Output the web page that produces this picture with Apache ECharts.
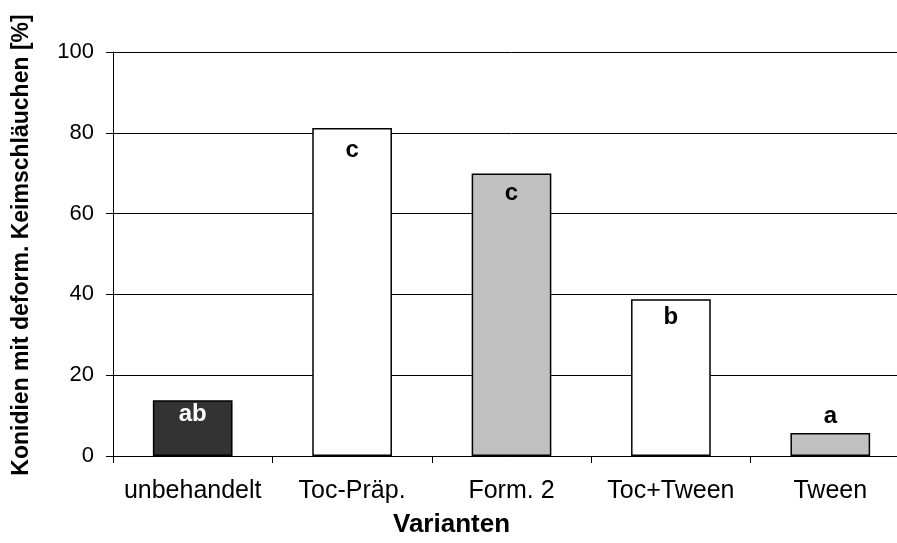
<!DOCTYPE html>
<html><head><meta charset="utf-8">
<script src="https://cdn.jsdelivr.net/npm/echarts@6/dist/echarts.min.js"></script>
<style>html,body{margin:0;padding:0;background:#fff;overflow:hidden;width:897px;height:543px}#c{width:910px;height:543px}</style>
</head><body><div id="c"></div>
<script>
const categories = ['unbehandelt', 'Toc-Präp.', 'Form. 2', 'Toc+Tween', 'Tween'];
const values = [13.8, 81.2, 69.9, 38.8, 5.7];
const letters = ['ab', 'c', 'c', 'b', 'a'];
const yTicks = [0, 20, 40, 60, 80, 100];

const fills = ['#333333', '#ffffff', '#c0c0c0', '#ffffff', '#c0c0c0'];
const labelPos = ['insideTop', 'insideTop', 'insideTop', 'insideTop', 'top'];
const labelColor = ['#ffffff', '#000', '#000', '#000', '#000'];
const labelDist = [2, 10, 8, 6, 5];

const chart = echarts.init(document.getElementById('c'));
chart.setOption({
  animation: false,
  grid: {left: 113, right: 0, top: 52, bottom: 85, containLabel: false},
  xAxis: {
    type: 'category', data: categories,
    name: 'Varianten', nameLocation: 'middle', nameGap: 56,
    nameTextStyle: {fontFamily: 'Liberation Sans', fontWeight: 'bold', fontSize: 26, color: '#000', padding: [0, 120, 0, 0]},
    axisLine: {lineStyle: {color: '#000', width: 1}},
    axisTick: {show: true, alignWithLabel: false, interval: 0, length: 7, lineStyle: {color: '#000'}},
    axisLabel: {interval: 0, hideOverlap: false, fontFamily: 'Liberation Sans', fontSize: 25, color: '#000', margin: 23}
  },
  yAxis: {
    type: 'value', min: 0, max: 100, interval: 20,
    name: 'Konidien mit deform. Keimschläuchen [%]', nameLocation: 'middle', nameGap: 80,
    nameTextStyle: {fontFamily: 'Liberation Sans', fontWeight: 'bold', fontSize: 23, color: '#000', padding: [0, 0, 0, 18]},
    axisLine: {show: true, lineStyle: {color: '#000', width: 1}},
    axisTick: {show: true, length: 7, lineStyle: {color: '#000'}},
    axisLabel: {fontFamily: 'Liberation Sans', fontSize: 22, color: '#000', margin: 19,
      formatter: v => yTicks.includes(v) ? String(v) : ''},
    splitLine: {show: true, lineStyle: {color: '#000', width: 1}}
  },
  series: [{
    type: 'bar', barWidth: '50%',
    data: values.map((v, i) => ({
      value: v,
      itemStyle: {color: fills[i], borderColor: '#000', borderWidth: 1.5},
      label: {show: true, position: labelPos[i], formatter: letters[i], color: labelColor[i],
        fontFamily: 'Liberation Sans', fontWeight: 'bold', fontSize: 24, distance: labelDist[i]}
    }))
  }]
});
</script></body></html>
